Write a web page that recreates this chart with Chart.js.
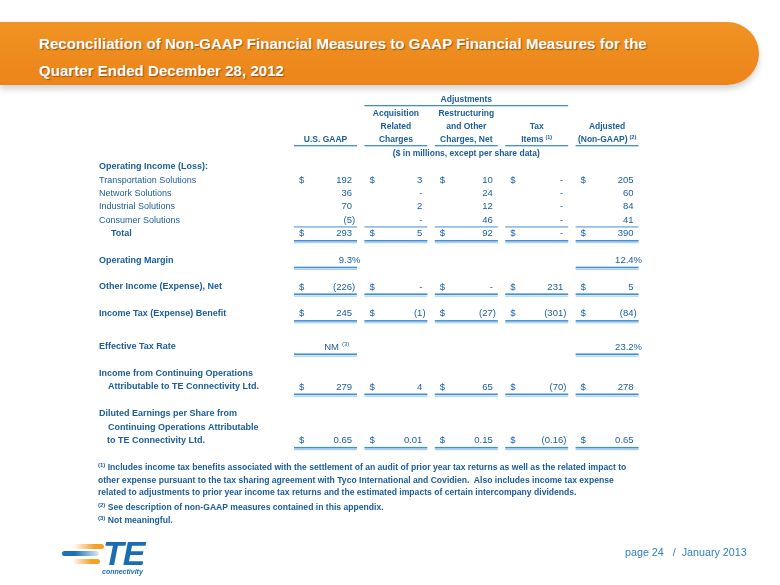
<!DOCTYPE HTML>
<html>
<head>
    <title>Reconciliation of Non-GAAP Financial Measures</title>
    <meta charset="utf-8" />
    <script src="https://cdn.jsdelivr.net/npm/chart.js"></script>
    <style>
        body {
            margin: 0;
            width: 780px;
            height: 585px;
            position: relative;
            overflow: hidden;
            background: #ffffff;
            font-family: "Liberation Sans", Arial, sans-serif;
            color: #1a5c9c;
        }

        #banner {
            position: absolute;
            left: 0;
            top: 22px;
            width: 759px;
            height: 63px;
            border-radius: 0 32px 32px 0;
            background: linear-gradient(180deg, #f09424 0%, #ee8a1d 60%, #ec841a 100%);
            box-shadow: 0 4px 6px rgba(0, 0, 0, 0.18);
        }

        #banner .title {
            position: absolute;
            left: 39px;
            color: #ffffff;
            font-weight: bold;
            font-size: 15px;
            line-height: 17px;
            white-space: nowrap;
            letter-spacing: 0.05px;
            text-shadow: 1px 1px 1px rgba(90, 40, 0, 0.55);
        }

        #tableChart {
            position: absolute;
            left: 0;
            top: 0;
        }

        .note {
            position: absolute;
            left: 98px;
            font-size: 8.6px;
            font-weight: bold;
            white-space: nowrap;
            color: #1a5c9c;
        }

        .note sup {
            font-size: 6px;
            vertical-align: 3px;
        }

        #pageNo {
            position: absolute;
            left: 625px;
            top: 545px;
            font-size: 11.8px;
            color: #2b7fc3;
            white-space: pre;
            transform: scaleX(0.91);
            transform-origin: 0 50%;
        }

        .stripe {
            position: absolute;
            height: 5px;
            border-radius: 3px;
        }
    </style>
</head>
<body>

<div id="banner">
    <div class="title" style="top: 12.5px;">Reconciliation of Non-GAAP Financial Measures to GAAP Financial Measures for the</div>
    <div class="title" style="top: 39.5px;">Quarter Ended December 28, 2012</div>
</div>

<canvas id="tableChart" width="780" height="585"></canvas>

<div class="note" style="top: 462px;"><sup>(1)</sup> Includes income tax benefits associated with the settlement of an audit of prior year tax returns as well as the related impact to</div>
<div class="note" style="top: 475px;">other expense pursuant to the tax sharing agreement with Tyco International and Covidien.&nbsp; Also includes income tax expense</div>
<div class="note" style="top: 487px;">related to adjustments to prior year income tax returns and the estimated impacts of certain intercompany dividends.</div>
<div class="note" style="top: 502px;"><sup>(2)</sup> See description of non-GAAP measures contained in this appendix.</div>
<div class="note" style="top: 515px;"><sup>(3)</sup> Not meaningful.</div>

<!-- logo -->
<div class="stripe" style="left:73px; top:544px; width:31px; background: linear-gradient(90deg, rgba(246,160,40,0), #f6a028 70%);"></div>
<div class="stripe" style="left:62px; top:551px; width:37px; background: linear-gradient(90deg, #1b72b9 35%, rgba(27,114,185,0.15));"></div>
<div class="stripe" style="left:72px; top:559px; width:28px; background: linear-gradient(90deg, rgba(246,160,40,0), #f6a028 70%);"></div>
<div style="position:absolute; left:103px; top:534px; font: italic bold 34px 'Liberation Sans', sans-serif; color:#1a6db4; letter-spacing:-1px;">TE</div>
<div style="position:absolute; left:102px; top:568px; font: italic bold 7px 'Liberation Sans', sans-serif; color:#1a6db4;">connectivity</div>

<div id="pageNo">page 24   /  January 2013</div>

<script>
    // columns of the table
    const columnTitles = [
        ['U.S. GAAP'],
        ['Acquisition', 'Related', 'Charges'],
        ['Restructuring', 'and Other', 'Charges, Net'],
        ['Tax', 'Items'],
        ['Adjusted', '(Non-GAAP)']
    ];
    const columnNotes = ['', '', '', '(1)', '(2)'];

    // row labels (several lines for the long ones)
    const rowLabels = [
        ['Operating Income (Loss):'],
        ['Transportation Solutions'],
        ['Network Solutions'],
        ['Industrial Solutions'],
        ['Consumer Solutions'],
        ['Total'],
        ['Operating Margin'],
        ['Other Income (Expense), Net'],
        ['Income Tax (Expense) Benefit'],
        ['Effective Tax Rate'],
        ['Income from Continuing Operations', 'Attributable to TE Connectivity Ltd.'],
        ['Diluted Earnings per Share from', 'Continuing Operations Attributable', 'to TE Connectivity Ltd.']
    ];
    // int = $ millions, pct = percent, eps = per share
    const rowFormats = ['none', 'int', 'int', 'int', 'int', 'int', 'pct', 'int', 'int', 'pct', 'int', 'eps'];
    const dollarRows = [false, true, false, false, false, true, false, true, true, false, true, true];
    const boldRows = [true, false, false, false, false, true, true, true, true, true, true, true];

    // values ($ in millions, except per share data)
    const usGaap = [null, 192, 36, 70, -5, 293, 9.3, -226, 245, 'NM', 279, 0.65];
    const acquisitionCharges = [null, 3, 0, 2, 0, 5, null, 0, -1, null, 4, 0.01];
    const restructuringCharges = [null, 10, 24, 12, 46, 92, null, 0, -27, null, 65, 0.15];
    const taxItems = [null, 0, 0, 0, 0, 0, null, 231, -301, null, -70, -0.16];
    const adjustedNonGaap = [null, 205, 60, 84, 41, 390, 12.4, 5, -84, 23.2, 278, 0.65];

    const columns = [usGaap, acquisitionCharges, restructuringCharges, taxItems, adjustedNonGaap];

    // layout: text line (13.35px) where each row label starts
    const rowLine = [5, 6, 7, 8, 9, 10, 12, 14, 16, 18.5, 20.5, 23.5];
    const valueLine = i => rowLine[i] + rowLabels[i].length - 1;

    const TEXT = '#1a5c9c';
    const RULE = '#3f8fd2';
    const RULE_LIGHT = '#a8cfee';
    const HALF = 31.5;

    function formatValue(v, fmt) {
        if (v === null) return '';
        if (typeof v === 'string') return v;
        if (fmt === 'pct') return v.toFixed(1) + '%';
        if (v === 0) return '-';
        const s = fmt === 'eps' ? Math.abs(v).toFixed(2) : String(Math.abs(v));
        return v < 0 ? '(' + s + ')' : s;
    }

    const tablePlugin = {
        id: 'tableText',
        afterDatasetsDraw(chart) {
            const c = chart.ctx;
            const xs = chart.scales.x;
            const ys = chart.scales.y;
            const labelX = 99;
            c.save();
            c.fillStyle = TEXT;
            c.textBaseline = 'middle';

            function hline(x1, x2, y, w, color) {
                c.fillStyle = color;
                c.fillRect(x1, y, x2 - x1, w);
                c.fillStyle = TEXT;
            }

            // header
            c.font = 'bold 8.5px "Liberation Sans"';
            c.textAlign = 'center';
            const adjX = xs.getPixelForValue(2);
            c.fillText('Adjustments', adjX, ys.getPixelForValue(0));
            hline(xs.getPixelForValue(1) - HALF, xs.getPixelForValue(3) + HALF, ys.getPixelForValue(0) + 5, 1.3, RULE);
            columnTitles.forEach((lines, ci) => {
                const cx = xs.getPixelForValue(ci);
                lines.forEach((t, li) => {
                    const line = 4 - lines.length + li;
                    const y = ys.getPixelForValue(line);
                    if (li === lines.length - 1 && columnNotes[ci]) {
                        const w = c.measureText(t).width;
                        c.font = 'bold 5.5px "Liberation Sans"';
                        const nw = c.measureText(columnNotes[ci]).width;
                        c.font = 'bold 8.5px "Liberation Sans"';
                        c.textAlign = 'left';
                        c.fillText(t, cx - (w + nw + 2) / 2, y);
                        c.font = 'bold 5.5px "Liberation Sans"';
                        c.fillText(columnNotes[ci], cx - (w + nw + 2) / 2 + w + 2, y - 2.5);
                        c.font = 'bold 8.5px "Liberation Sans"';
                        c.textAlign = 'center';
                    } else {
                        c.fillText(t, cx, y);
                    }
                });
                hline(cx - HALF, cx + HALF, ys.getPixelForValue(3) + 5, 1.3, RULE);
            });
            c.fillText('($ in millions, except per share data)', adjX, ys.getPixelForValue(4));

            // row labels
            c.textAlign = 'left';
            rowLabels.forEach((lines, i) => {
                c.font = (boldRows[i] ? 'bold ' : '') + '9px "Liberation Sans"';
                lines.forEach((t, li) => {
                    let indent = li > 0 ? 9 : 0;
                    if (i === 5) indent = 12;
                    if (i === 11 && li === 2) indent = 8;
                    c.fillText(t, labelX + indent, ys.getPixelForValue(rowLine[i] + li));
                });
            });

            // values, placed at the dataset points
            c.font = '9.5px "Liberation Sans"';
            chart.data.datasets.forEach((ds, ci) => {
                const meta = chart.getDatasetMeta(ci);
                meta.data.forEach((pt, j) => {
                    const row = ds.rows[j];
                    const v = columns[ci][row];
                    const txt = formatValue(v, rowFormats[row]);
                    const right = pt.x + HALF - 5;
                    const y = pt.y;
                    c.textAlign = 'right';
                    if (v === 'NM') {
                        c.fillText('NM', right - 13, y);
                        c.font = '6px "Liberation Sans"';
                        c.textAlign = 'left';
                        c.fillText('(3)', right - 10, y - 2.5);
                        c.font = '9.5px "Liberation Sans"';
                    } else {
                        const last = txt.slice(-1);
                        const hang = (last === ')' || last === '%') ? c.measureText(last).width : 0;
                        c.fillText(txt, right + hang, y);
                    }
                    if (dollarRows[row]) {
                        c.textAlign = 'left';
                        c.fillText('$', pt.x - HALF + 5, y);
                    }
                    // rules under the values
                    if (row === 4) {
                        hline(pt.x - HALF, pt.x + HALF, y + 6.3, 1, RULE);
                    } else if (row >= 5) {
                        hline(pt.x - HALF, pt.x + HALF, y + 6.5, 1.6, RULE);
                        hline(pt.x - HALF, pt.x + HALF, y + 8.6, 1.2, RULE_LIGHT);
                    }
                });
            });
            c.restore();
        }
    };

    const datasets = columns.map((col, ci) => {
        const rows = [];
        col.forEach((v, i) => { if (v !== null) rows.push(i); });
        return {
            label: columnTitles[ci].join(' '),
            rows: rows,
            data: rows.map(i => ({ x: ci, y: valueLine(i) })),
            pointRadius: 0,
            showLine: false
        };
    });

    const chart = new Chart(document.getElementById('tableChart'), {
        type: 'scatter',
        data: { datasets: datasets },
        options: {
            responsive: false,
            animation: false,
            events: [],
            layout: {
                padding: { left: 290.3, right: 137.7, top: 100, bottom: 144.6 }
            },
            plugins: {
                legend: { display: false },
                tooltip: { enabled: false }
            },
            scales: {
                x: { type: 'linear', min: -0.5, max: 4.5, display: false },
                y: { type: 'linear', min: 0, max: 25.5, reverse: true, display: false }
            }
        },
        plugins: [tablePlugin]
    });
</script>

</body>
</html>
